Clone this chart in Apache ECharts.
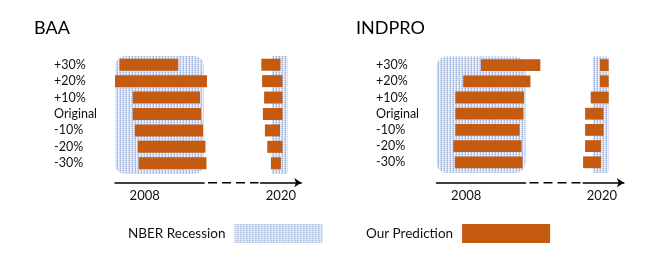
<!DOCTYPE html>
<html><head><meta charset="utf-8">
<script src="https://cdn.jsdelivr.net/npm/echarts@6/dist/echarts.min.js"></script>
<style>html,body{margin:0;padding:0;background:#fff}#c{width:654px;height:272px}</style>
</head><body><div id="c"></div>
<script>
// ---- data (months relative to the start of each recession) ----
const rows = ['+30%', '+20%', '+10%', 'Original', '-10%', '-20%', '-30%'];
const titles = ['BAA', 'INDPRO'];
const yearLabels = ['2008', '2020'];
const yearLabelAt = [6, 1.15];
const recession2008 = [0, 18];
const recession2020 = [0, 2];
const baa2008Start = [0.9, 0, 3.6, 3.6, 4.0, 4.6, 4.8];
const baa2008End = [12.8, 18.6, 17.2, 17.4, 17.8, 18.3, 18.5];
const baa2020Start = [-1.3, -1.2, -0.95, -1.1, -0.85, -0.55, -0.1];
const baa2020End = [1.1, 1.35, 1.35, 1.35, 1.05, 1.35, 1.15];
const indpro2008Start = [9.0, 5.4, 3.8, 3.8, 3.8, 3.4, 3.7];
const indpro2008End = [21.0, 19.0, 17.7, 17.6, 16.8, 17.2, 17.4];
const indpro2020Start = [0.9, 0.9, -0.25, -0.95, -0.95, -0.95, -1.2];
const indpro2020End = [2.0, 2.0, 2.0, 1.35, 1.35, 1.05, 1.05];

// ---- layout ----
const FONT = 'Lato';
const TXT = '#111';
const BAR = '#c55a11';
const AXIS_Y = 182.7;
const grids = [
  {left: 115, top: 56.5, width: 89, height: 115, min: 0, max: 18},      // BAA 2008
  {left: 260.5, top: 56.5, width: 40.8, height: 115, min: -1.4, max: 3.7}, // BAA 2020
  {left: 436.5, top: 57, width: 89, height: 113.4, min: 0, max: 18},    // INDPRO 2008
  {left: 583.1, top: 57, width: 40.8, height: 113.4, min: -1.2, max: 3.9} // INDPRO 2020
];

function makePattern() {
  const c = document.createElement('canvas');
  c.width = 3; c.height = 2;
  const g = c.getContext('2d');
  const px = [['#9fb5de', '#e2e9f5', '#cad7ee'], ['#bfcfea', '#f4f7fc', '#dae3f3']];
  for (let y = 0; y < 2; y++) for (let x = 0; x < 3; x++) { g.fillStyle = px[y][x]; g.fillRect(x, y, 1, 1); }
  return c;
}
const pattern = {image: makePattern(), repeat: 'repeat'};

function recessionSeries(gi, range, radius) {
  return {
    type: 'custom', name: 'NBER Recession', xAxisIndex: gi, yAxisIndex: gi, clip: false, z: 1,
    itemStyle: {color: pattern}, silent: true,
    encode: {x: [1, 2], y: 0},
    data: [[rows[0], range[0], range[1]]],
    renderItem: (params, api) => {
      const x0 = api.coord([api.value(1), 0])[0];
      const x1 = api.coord([api.value(2), 0])[0];
      const cs = params.coordSys;
      return {type: 'rect', shape: {x: x0, y: cs.y - 0.5, width: x1 - x0, height: cs.height + 3, r: radius},
        style: {fill: pattern}};
    }
  };
}
function barSeries(gi, starts, ends) {
  return {
    type: 'custom', name: 'Our Prediction', xAxisIndex: gi, yAxisIndex: gi, clip: false, z: 2,
    itemStyle: {color: BAR}, silent: true,
    encode: {x: [1, 2], y: 0},
    data: rows.map((r, i) => [r, starts[i], ends[i]]),
    renderItem: (params, api) => {
      const yi = api.value(0);
      const p0 = api.coord([api.value(1), yi]);
      const p1 = api.coord([api.value(2), yi]);
      const h = api.size([0, 1])[1] * 0.73;
      return {type: 'rect', shape: {x: p0[0], y: p0[1] - h / 2, width: p1[0] - p0[0], height: h},
        style: {fill: BAR}};
    }
  };
}
function xAx(gi, label, tickAt, arrow) {
  const g = grids[gi];
  return {
    type: 'value', gridIndex: gi, min: g.min, max: g.max,
    offset: AXIS_Y - (g.top + g.height),
    splitLine: {show: false}, axisTick: {show: false},
    axisLine: {show: true, onZero: false, lineStyle: {color: '#000', width: 1.5},
      symbol: arrow ? ['none', 'arrow'] : ['none', 'none'], symbolSize: [7, 7]},
    axisLabel: {customValues: [tickAt], formatter: () => label, margin: 7,
      fontFamily: FONT, fontSize: 13, color: TXT}
  };
}
function yAx(gi, show, margin) {
  return {
    type: 'category', gridIndex: gi, data: rows, inverse: true,
    axisLine: {show: false}, axisTick: {show: false}, splitLine: {show: false},
    axisLabel: {show, interval: 0, align: 'left', margin, fontFamily: FONT, fontSize: 12.5, color: TXT}
  };
}

const chart = echarts.init(document.getElementById('c'), null, {renderer: 'canvas'});
chart.setOption({
  animation: false,
  backgroundColor: '#fff',
  title: [
    {text: titles[0], left: 34, top: 19, padding: 0, textStyle: {fontFamily: FONT, fontSize: 18, fontWeight: 'normal', color: '#000'}},
    {text: titles[1], left: 356, top: 19, padding: 0, textStyle: {fontFamily: FONT, fontSize: 18, fontWeight: 'normal', color: '#000'}}
  ],
  legend: [
    {data: [{name: 'NBER Recession', icon: 'rect', itemStyle: {color: pattern}}], left: 128, top: 224,
      itemWidth: 88, itemHeight: 19, align: 'right', padding: 0, selectedMode: false,
      textStyle: {fontFamily: FONT, fontSize: 13.5, color: TXT, padding: [0, 4, 0, 0]}},
    {data: [{name: 'Our Prediction', icon: 'rect', itemStyle: {color: BAR}}], left: 366, top: 224,
      itemWidth: 88, itemHeight: 19, align: 'right', padding: 0, selectedMode: false,
      textStyle: {fontFamily: FONT, fontSize: 13.5, color: TXT, padding: [0, 4, 0, 0]}}
  ],
  grid: grids.map(g => ({left: g.left, top: g.top, width: g.width, height: g.height})),
  xAxis: [
    xAx(0, yearLabels[0], yearLabelAt[0], false),
    xAx(1, yearLabels[1], yearLabelAt[1], true),
    xAx(2, yearLabels[0], yearLabelAt[0], false),
    xAx(3, yearLabels[1], yearLabelAt[1], true)
  ],
  yAxis: [yAx(0, true, 61), yAx(1, false, 0), yAx(2, true, 60.5), yAx(3, false, 0)],
  series: [
    recessionSeries(0, recession2008, 10),
    recessionSeries(1, recession2020, 2),
    recessionSeries(2, recession2008, 10),
    recessionSeries(3, recession2020, 2),
    barSeries(0, baa2008Start, baa2008End),
    barSeries(1, baa2020Start, baa2020End),
    barSeries(2, indpro2008Start, indpro2008End),
    barSeries(3, indpro2020Start, indpro2020End)
  ]
});

// dashed break between the 2008 and 2020 axis segments
const gfx = [];
[[0, 1], [2, 3]].forEach(([a, b]) => {
  const xa = chart.convertToPixel({xAxisIndex: a}, grids[a].max);
  const xb = chart.convertToPixel({xAxisIndex: b}, grids[b].min);
  gfx.push({type: 'line', silent: true, shape: {x1: xa + 4, y1: AXIS_Y, x2: xb - 2, y2: AXIS_Y},
    style: {stroke: '#000', lineWidth: 1.5, lineDash: [9, 5]}});
});
chart.setOption({graphic: gfx});
</script>
</body></html>
